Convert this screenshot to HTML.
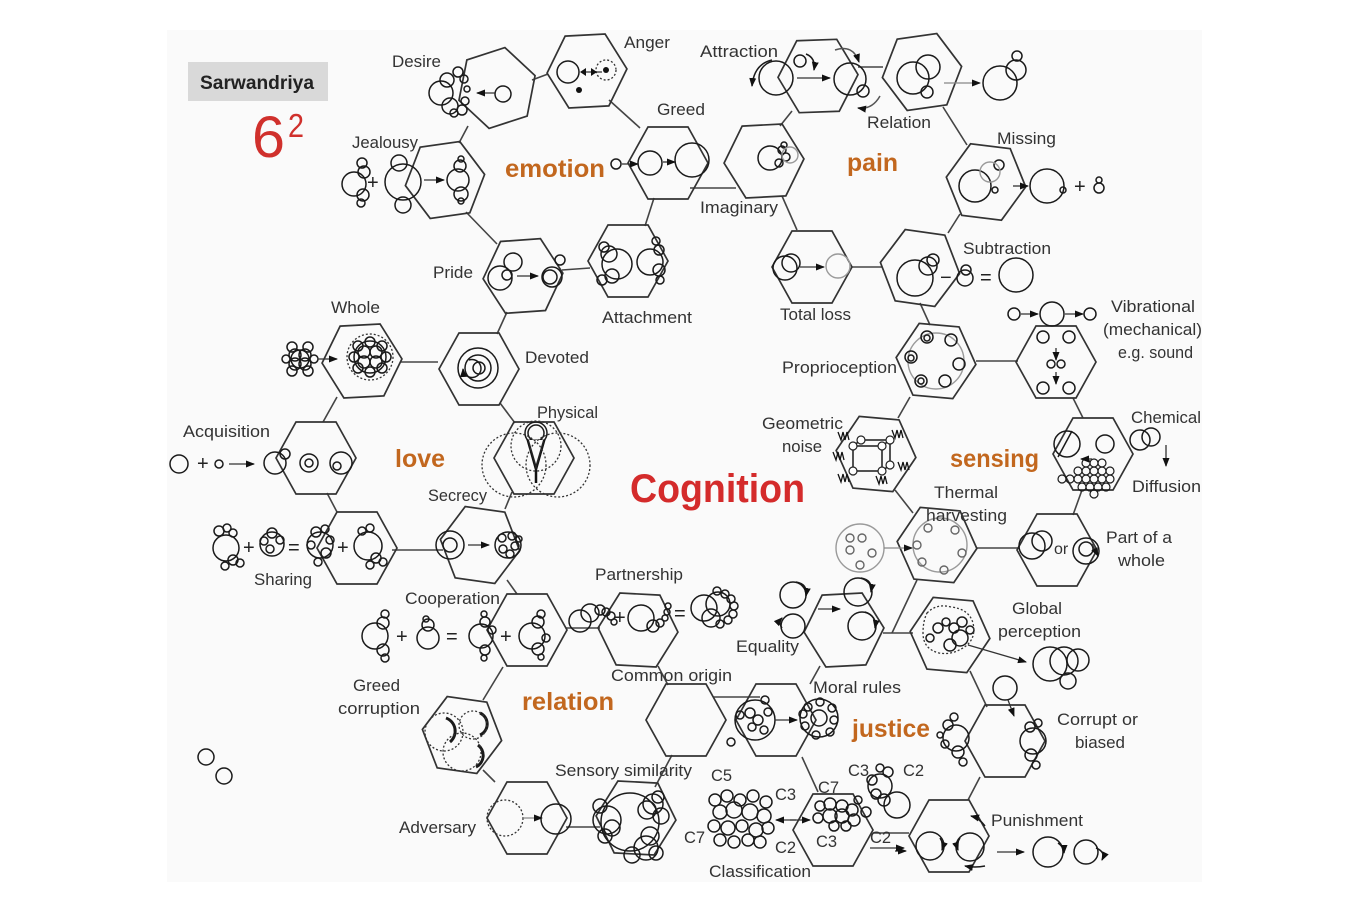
<!DOCTYPE html>
<html><head><meta charset="utf-8"><style>
html,body{margin:0;padding:0;background:#fff;}
svg{display:block;}
text{font-family:"Liberation Sans",sans-serif;}
.L{font-size:16.5px;fill:#333;}
.C{font-size:25px;font-weight:bold;fill:#c2671e;}
.k{fill:none;stroke:#1a1a1a;stroke-width:1.5;}
.g{fill:none;stroke:#9a9a9a;stroke-width:1.4;}
.d{fill:none;stroke:#333;stroke-width:1.3;stroke-dasharray:2 2;}
.ln{stroke:#444;stroke-width:1.6;fill:none;}
.hx{fill:none;stroke:#333;stroke-width:1.7;}
.ar{stroke:#333;stroke-width:1.3;fill:none;marker-end:url(#a);}
.ag{stroke:#888;stroke-width:1.3;fill:none;marker-end:url(#a);}
.op{font-size:20px;fill:#222;}
</style></head><body>
<svg width="1370" height="898" viewBox="0 0 1370 898" xmlns="http://www.w3.org/2000/svg">
<defs>
<polygon id="h" points="40,0 20,-36 -20,-36 -40,0 -20,36 20,36"/>
<marker id="a" markerWidth="9" markerHeight="9" refX="8" refY="4.5" orient="auto" markerUnits="userSpaceOnUse"><path d="M0,1 L9,4.5 L0,8z" fill="#111"/></marker>
</defs>
<rect x="0" y="0" width="1370" height="898" fill="#fff"/>
<rect x="167" y="30" width="1035" height="852" fill="#fafafa"/>

<!-- header -->
<rect x="188" y="62" width="140" height="39" fill="#d9d9d9"/>
<text x="200" y="89" font-size="19" font-weight="bold" fill="#222" textLength="114" lengthAdjust="spacingAndGlyphs">Sarwandriya</text>
<text x="252" y="157" font-size="58" fill="#d0302c" textLength="33" lengthAdjust="spacingAndGlyphs">6</text>
<text x="288" y="137" font-size="33" fill="#d0302c" textLength="16" lengthAdjust="spacingAndGlyphs">2</text>

<!-- connections -->
<g class="ln">
<line x1="532" y1="80" x2="548" y2="74"/>
<line x1="468" y1="126" x2="459" y2="143"/>
<line x1="466" y1="212" x2="497" y2="244"/>
<line x1="562" y1="270" x2="590" y2="268"/>
<line x1="645" y1="226" x2="654" y2="198"/>
<line x1="609" y1="100" x2="640" y2="128"/>
<line x1="690" y1="188" x2="736" y2="188"/>
<line x1="780" y1="126" x2="792" y2="111"/>
<line x1="858" y1="67" x2="883" y2="67"/>
<line x1="943" y1="107" x2="967" y2="145"/>
<line x1="960" y1="214" x2="948" y2="233"/>
<line x1="852" y1="267" x2="882" y2="267"/>
<line x1="782" y1="196" x2="797" y2="230"/>
<line x1="920" y1="303" x2="930" y2="325"/>
<line x1="507" y1="312" x2="497" y2="334"/>
<line x1="400" y1="362" x2="438" y2="362"/>
<line x1="337" y1="397" x2="323" y2="422"/>
<line x1="500" y1="403" x2="515" y2="423"/>
<line x1="512" y1="492" x2="505" y2="509"/>
<line x1="392" y1="550" x2="443" y2="550"/>
<line x1="327" y1="493" x2="337" y2="512"/>
<line x1="507" y1="580" x2="517" y2="594"/>
<line x1="566" y1="628" x2="600" y2="628"/>
<line x1="658" y1="666" x2="668" y2="685"/>
<line x1="713" y1="697" x2="760" y2="697"/>
<line x1="672" y1="755" x2="655" y2="787"/>
<line x1="566" y1="827" x2="600" y2="827"/>
<line x1="495" y1="782" x2="483" y2="770"/>
<line x1="483" y1="700" x2="503" y2="667"/>
<line x1="976" y1="361" x2="1018" y2="361"/>
<line x1="910" y1="397" x2="898" y2="418"/>
<line x1="1073" y1="398" x2="1083" y2="418"/>
<line x1="1082" y1="490" x2="1073" y2="515"/>
<line x1="977" y1="548" x2="1018" y2="548"/>
<line x1="895" y1="490" x2="913" y2="513"/>
<line x1="917" y1="580" x2="892" y2="633"/>
<line x1="883" y1="633" x2="913" y2="633"/>
<line x1="820" y1="666" x2="810" y2="684"/>
<line x1="970" y1="671" x2="987" y2="707"/>
<line x1="980" y1="777" x2="968" y2="800"/>
<line x1="873" y1="833" x2="909" y2="833"/>
<line x1="802" y1="757" x2="818" y2="792"/>
</g>

<!-- hexagons -->
<g class="hx">
<use href="#h" transform="translate(497,88) rotate(-18)"/>
<use href="#h" transform="translate(587,71) rotate(-3)"/>
<use href="#h" transform="translate(668,163)"/>
<use href="#h" transform="translate(628,261)"/>
<use href="#h" transform="translate(523,276) rotate(-4)"/>
<use href="#h" transform="translate(445,180) rotate(-8)"/>
<use href="#h" transform="translate(818,76) rotate(-2)"/>
<use href="#h" transform="translate(922,72) rotate(-8)"/>
<use href="#h" transform="translate(764,161) rotate(-3)"/>
<use href="#h" transform="translate(986,182) rotate(7)"/>
<use href="#h" transform="translate(920,268) rotate(8)"/>
<use href="#h" transform="translate(812,267)"/>
<use href="#h" transform="translate(362,361) rotate(-3)"/>
<use href="#h" transform="translate(479,369)"/>
<use href="#h" transform="translate(534,458)"/>
<use href="#h" transform="translate(316,458)"/>
<use href="#h" transform="translate(357,548)"/>
<use href="#h" transform="translate(480,545) rotate(8)"/>
<use href="#h" transform="translate(936,361) rotate(5)"/>
<use href="#h" transform="translate(1056,362)"/>
<use href="#h" transform="translate(876,454) rotate(5)"/>
<use href="#h" transform="translate(1093,454)"/>
<use href="#h" transform="translate(937,545) rotate(5)"/>
<use href="#h" transform="translate(1057,550)"/>
<use href="#h" transform="translate(527,630)"/>
<use href="#h" transform="translate(638,630) rotate(3)"/>
<use href="#h" transform="translate(686,720)"/>
<use href="#h" transform="translate(462,735) rotate(8)"/>
<use href="#h" transform="translate(527,818)"/>
<use href="#h" transform="translate(636,818) rotate(3)"/>
<use href="#h" transform="translate(844,630) rotate(-3)"/>
<use href="#h" transform="translate(950,635) rotate(5)"/>
<use href="#h" transform="translate(776,720)"/>
<use href="#h" transform="translate(1005,741)"/>
<use href="#h" transform="translate(833,830)"/>
<use href="#h" transform="translate(949,836)"/>
</g>

<!-- ===== emotion icons ===== -->
<g class="k">
<circle cx="441" cy="93" r="12"/><circle cx="447" cy="80" r="7"/><circle cx="450" cy="106" r="8"/>
<circle cx="458" cy="72" r="5"/><circle cx="464" cy="79" r="4"/><circle cx="465" cy="101" r="4"/>
<circle cx="462" cy="110" r="5"/><circle cx="454" cy="113" r="4"/><circle cx="467" cy="89" r="3"/>
<circle cx="503" cy="94" r="8"/>
<circle cx="568" cy="72" r="11"/>
<circle cx="616" cy="164" r="5"/><circle cx="650" cy="163" r="12"/><circle cx="692" cy="160" r="17"/>
<circle cx="770" cy="158" r="12"/><circle cx="782" cy="150" r="4"/><circle cx="786" cy="157" r="4"/><circle cx="779" cy="163" r="4"/><circle cx="784" cy="145" r="3"/>
<circle cx="776" cy="78" r="17"/><circle cx="850" cy="79" r="16"/><circle cx="800" cy="61" r="6"/><circle cx="863" cy="91" r="6"/>
<circle cx="913" cy="78" r="16"/><circle cx="928" cy="67" r="12"/><circle cx="927" cy="92" r="6"/>
<circle cx="1000" cy="83" r="17"/><circle cx="1016" cy="70" r="10"/><circle cx="1017" cy="56" r="5"/>
<circle cx="975" cy="186" r="16"/><circle cx="999" cy="165" r="5"/><circle cx="995" cy="190" r="3"/>
<circle cx="1047" cy="186" r="17"/><circle cx="1063" cy="190" r="3"/><circle cx="1099" cy="188" r="5"/><circle cx="1099" cy="180" r="3"/>
<circle cx="915" cy="278" r="18"/><circle cx="928" cy="266" r="9"/><circle cx="933" cy="260" r="6"/>
<circle cx="965" cy="278" r="8"/><circle cx="966" cy="270" r="5"/><circle cx="1016" cy="275" r="17"/>
<circle cx="785" cy="268" r="12"/><circle cx="791" cy="263" r="9"/>
<circle cx="617" cy="264" r="15"/><circle cx="609" cy="254" r="8"/><circle cx="604" cy="247" r="5"/><circle cx="612" cy="276" r="7"/><circle cx="602" cy="280" r="5"/>
<circle cx="650" cy="262" r="13"/><circle cx="659" cy="250" r="5"/><circle cx="659" cy="270" r="6"/><circle cx="660" cy="280" r="4"/><circle cx="656" cy="241" r="4"/>
<circle cx="500" cy="278" r="12"/><circle cx="513" cy="262" r="9"/><circle cx="507" cy="275" r="5"/>
<circle cx="552" cy="277" r="10"/><circle cx="550" cy="277" r="7"/><circle cx="560" cy="260" r="5"/>
<circle cx="354" cy="184" r="12"/><circle cx="364" cy="172" r="6"/><circle cx="362" cy="163" r="5"/><circle cx="363" cy="195" r="6"/><circle cx="361" cy="203" r="4"/>
<circle cx="403" cy="182" r="18"/><circle cx="399" cy="163" r="8"/><circle cx="403" cy="205" r="8"/>
<circle cx="458" cy="180" r="11"/><circle cx="460" cy="166" r="6"/><circle cx="461" cy="194" r="7"/><circle cx="461" cy="159" r="3"/><circle cx="461" cy="201" r="3"/>
</g>
<g class="g"><circle cx="790" cy="155" r="8"/><circle cx="838" cy="266" r="12"/><circle cx="990" cy="172" r="10"/></g>
<circle cx="606" cy="70" r="10" class="d"/><circle cx="606" cy="70" r="3" fill="#111"/><circle cx="579" cy="90" r="3" fill="#111"/>
<line x1="584" y1="72" x2="602" y2="72" stroke="#333" stroke-width="1.3"/>
<path d="M586,68 L580,72 L586,76z M591,68 L597,72 L591,76z" fill="#111"/>
<g class="ar">
<line x1="495" y1="93" x2="477" y2="93"/>
<line x1="622" y1="164" x2="638" y2="164"/>
<line x1="663" y1="162" x2="675" y2="162"/>
<line x1="797" y1="78" x2="830" y2="78"/>
<line x1="1013" y1="186" x2="1028" y2="186"/>
<line x1="800" y1="267" x2="824" y2="267"/>
<line x1="517" y1="276" x2="538" y2="276"/>
<line x1="424" y1="180" x2="444" y2="180"/>
</g>
<line x1="944" y1="83" x2="980" y2="83" class="ag"/>
<path d="M806,54 q10,4 8,16" class="k" marker-end="url(#a)"/>
<path d="M772,60 q-18,4 -20,26" class="k" marker-end="url(#a)"/>
<path d="M835,50 q18,-6 24,12" class="k" style="stroke:#555" marker-end="url(#a)"/>
<path d="M880,96 q-8,14 -22,12" class="k" style="stroke:#555" marker-end="url(#a)"/>
<text x="1074" y="193" class="op">+</text>
<text x="940" y="284" class="op">−</text>
<text x="980" y="284" class="op">=</text>
<text x="367" y="189" class="op">+</text>

<!-- ===== love icons ===== -->
<g class="k">
<circle cx="292" cy="347" r="5"/><circle cx="308" cy="347" r="5"/><circle cx="292" cy="371" r="5"/><circle cx="308" cy="371" r="5"/>
<circle cx="300" cy="359" r="9"/><circle cx="295" cy="355" r="6"/><circle cx="305" cy="355" r="6"/><circle cx="295" cy="364" r="6"/><circle cx="305" cy="364" r="6"/>
<circle cx="286" cy="359" r="4"/><circle cx="314" cy="359" r="4"/>
<circle cx="370" cy="357" r="16"/><circle cx="358" cy="346" r="5"/><circle cx="370" cy="342" r="5"/><circle cx="382" cy="346" r="5"/><circle cx="386" cy="357" r="5"/>
<circle cx="382" cy="368" r="5"/><circle cx="370" cy="372" r="5"/><circle cx="358" cy="368" r="5"/><circle cx="354" cy="357" r="5"/>
<circle cx="364" cy="352" r="6"/><circle cx="376" cy="352" r="6"/><circle cx="364" cy="362" r="6"/><circle cx="376" cy="362" r="6"/>
<circle cx="478" cy="368" r="20"/><circle cx="478" cy="368" r="13"/><circle cx="479" cy="368" r="6"/>
<circle cx="536" cy="433" r="11"/><circle cx="536" cy="433" r="8"/>
<circle cx="179" cy="464" r="9"/><circle cx="219" cy="464" r="4"/>
<circle cx="275" cy="463" r="11"/><circle cx="285" cy="454" r="5"/>
<circle cx="309" cy="463" r="9"/><circle cx="309" cy="463" r="4"/>
<circle cx="341" cy="463" r="11"/><circle cx="337" cy="466" r="4"/>
<circle cx="226" cy="548" r="13"/><circle cx="219" cy="531" r="5"/><circle cx="227" cy="528" r="4"/><circle cx="233" cy="533" r="4"/>
<circle cx="233" cy="560" r="5"/><circle cx="225" cy="566" r="4"/><circle cx="240" cy="563" r="4"/>
<circle cx="272" cy="544" r="12"/><circle cx="272" cy="533" r="5"/><circle cx="264" cy="541" r="4"/><circle cx="280" cy="540" r="4"/><circle cx="270" cy="549" r="4"/>
<circle cx="320" cy="545" r="13"/><circle cx="316" cy="532" r="5"/><circle cx="325" cy="529" r="4"/><circle cx="311" cy="545" r="4"/><circle cx="326" cy="553" r="5"/><circle cx="318" cy="562" r="4"/><circle cx="330" cy="540" r="4"/>
<circle cx="368" cy="546" r="14"/><circle cx="362" cy="531" r="4"/><circle cx="370" cy="528" r="4"/><circle cx="376" cy="558" r="5"/><circle cx="370" cy="565" r="4"/><circle cx="383" cy="562" r="4"/>
<circle cx="450" cy="545" r="14"/><circle cx="450" cy="545" r="7"/>
<circle cx="508" cy="545" r="13"/><circle cx="502" cy="538" r="4"/><circle cx="512" cy="536" r="4"/><circle cx="515" cy="546" r="4"/><circle cx="503" cy="549" r="4"/><circle cx="510" cy="554" r="4"/><circle cx="519" cy="539" r="3"/>
<circle cx="206" cy="757" r="8"/><circle cx="224" cy="776" r="8"/>
</g>
<path d="M527,440 L536,472 L545,440 Z" fill="#222" stroke="#111" stroke-width="1"/>
<path d="M529,440 L536,464 L543,440 Z" fill="#fafafa"/>
<line x1="536" y1="470" x2="536" y2="483" stroke="#111" stroke-width="2.5"/>
<g class="d">
<circle cx="370" cy="357" r="23"/>
<circle cx="514" cy="465" r="32"/><circle cx="558" cy="465" r="32"/><circle cx="536" cy="446" r="25"/>
</g>
<path d="M469,360 a9,9 0 1 1 -6,9" class="k" marker-end="url(#a)"/>
<g class="ar">
<line x1="318" y1="359" x2="337" y2="359"/>
<line x1="229" y1="464" x2="254" y2="464"/>
<line x1="468" y1="545" x2="489" y2="545"/>
</g>
<text x="197" y="470" class="op">+</text>
<text x="243" y="554" class="op">+</text>
<text x="288" y="554" class="op">=</text>
<text x="337" y="554" class="op">+</text>

<!-- ===== sensing icons ===== -->
<circle cx="936" cy="361" r="28" class="g"/>
<g class="k">
<circle cx="927" cy="337" r="6"/><circle cx="951" cy="340" r="6"/><circle cx="959" cy="364" r="6"/><circle cx="945" cy="381" r="6"/><circle cx="921" cy="381" r="6"/><circle cx="911" cy="357" r="6"/>
<circle cx="927" cy="338" r="3"/><circle cx="911" cy="358" r="3"/><circle cx="921" cy="381" r="3"/>
<circle cx="1043" cy="337" r="6"/><circle cx="1069" cy="337" r="6"/><circle cx="1051" cy="364" r="4"/><circle cx="1061" cy="364" r="4"/><circle cx="1043" cy="388" r="6"/><circle cx="1069" cy="388" r="6"/>
<circle cx="1014" cy="314" r="6"/><circle cx="1052" cy="314" r="12"/><circle cx="1090" cy="314" r="6"/>
<rect x="853" y="446" width="29" height="25"/><path d="M853,446 L861,440 L890,440 L890,465 L882,471 M882,446 L890,440"/>
<circle cx="1067" cy="444" r="13"/><line x1="1058" y1="457" x2="1072" y2="431"/><circle cx="1105" cy="444" r="9"/>
<circle cx="1140" cy="440" r="10"/><circle cx="1151" cy="437" r="9"/>
<circle cx="1032" cy="546" r="13"/><circle cx="1042" cy="541" r="10"/>
<circle cx="1086" cy="551" r="13"/><circle cx="1086" cy="549" r="7"/>
</g>
<g fill="#fff" stroke="#222" stroke-width="1.2">
<circle cx="853" cy="446" r="4"/><circle cx="882" cy="446" r="4"/><circle cx="853" cy="471" r="4"/><circle cx="882" cy="471" r="4"/><circle cx="861" cy="440" r="4"/><circle cx="890" cy="440" r="4"/><circle cx="890" cy="465" r="4"/>
</g>
<g fill="none" stroke="#111" stroke-width="1.3">
<path d="M838,432 l3,8 l2,-8 l2,8 l2,-8 l2,8"/>
<path d="M892,430 l3,8 l2,-8 l2,8 l2,-8 l2,8"/>
<path d="M833,452 l3,8 l2,-8 l2,8 l2,-8 l2,8"/>
<path d="M898,462 l3,8 l2,-8 l2,8 l2,-8 l2,8"/>
<path d="M838,474 l3,8 l2,-8 l2,8 l2,-8 l2,8"/>
<path d="M876,476 l3,8 l2,-8 l2,8 l2,-8 l2,8"/>
</g>
<g class="k" style="stroke-width:1.2">
<circle cx="1062" cy="479" r="4"/><circle cx="1070" cy="479" r="4"/><circle cx="1078" cy="479" r="4"/><circle cx="1086" cy="479" r="4"/><circle cx="1094" cy="479" r="4"/><circle cx="1102" cy="479" r="4"/><circle cx="1110" cy="479" r="4"/>
<circle cx="1078" cy="471" r="4"/><circle cx="1086" cy="471" r="4"/><circle cx="1094" cy="471" r="4"/><circle cx="1102" cy="471" r="4"/><circle cx="1110" cy="471" r="4"/>
<circle cx="1086" cy="463" r="4"/><circle cx="1094" cy="463" r="4"/><circle cx="1102" cy="463" r="4"/>
<circle cx="1082" cy="487" r="4"/><circle cx="1090" cy="487" r="4"/><circle cx="1098" cy="487" r="4"/><circle cx="1106" cy="487" r="4"/><circle cx="1094" cy="494" r="4"/>
</g>
<g class="ar">
<line x1="1056" y1="348" x2="1056" y2="360"/><line x1="1056" y1="372" x2="1056" y2="384"/>
<line x1="1021" y1="314" x2="1038" y2="314"/><line x1="1065" y1="314" x2="1083" y2="314"/>
<line x1="1092" y1="459" x2="1081" y2="459"/>
<line x1="1166" y1="445" x2="1166" y2="466"/>
<line x1="1092" y1="544" x2="1098" y2="556"/>
</g>
<circle cx="940" cy="545" r="27" class="g"/><circle cx="860" cy="548" r="24" class="g"/>
<g class="g" style="stroke:#666">
<circle cx="928" cy="528" r="4"/><circle cx="955" cy="530" r="4"/><circle cx="962" cy="553" r="4"/><circle cx="944" cy="570" r="4"/><circle cx="922" cy="562" r="4"/><circle cx="917" cy="545" r="4"/>
<circle cx="850" cy="538" r="4"/><circle cx="862" cy="538" r="4"/><circle cx="850" cy="550" r="4"/><circle cx="872" cy="553" r="4"/><circle cx="860" cy="565" r="4"/>
</g>
<line x1="884" y1="548" x2="912" y2="548" class="ag"/>
<text x="1054" y="554" font-size="16" fill="#333">or</text>

<!-- ===== relation icons ===== -->
<g class="k">
<circle cx="375" cy="636" r="13"/><circle cx="383" cy="623" r="6"/><circle cx="385" cy="614" r="4"/><circle cx="383" cy="650" r="6"/><circle cx="385" cy="658" r="4"/>
<circle cx="428" cy="638" r="11"/><circle cx="428" cy="625" r="6"/><circle cx="426" cy="619" r="3"/>
<circle cx="481" cy="636" r="12"/><circle cx="485" cy="622" r="5"/><circle cx="484" cy="614" r="3"/><circle cx="485" cy="650" r="5"/><circle cx="484" cy="658" r="3"/><circle cx="492" cy="630" r="4"/>
<circle cx="532" cy="636" r="13"/><circle cx="538" cy="622" r="6"/><circle cx="541" cy="614" r="4"/><circle cx="538" cy="649" r="6"/><circle cx="541" cy="657" r="3"/><circle cx="546" cy="638" r="4"/>
<circle cx="580" cy="621" r="11"/><circle cx="590" cy="613" r="9"/><circle cx="600" cy="610" r="5"/><circle cx="606" cy="612" r="4"/><circle cx="611" cy="616" r="4"/><circle cx="614" cy="622" r="3"/>
<circle cx="641" cy="618" r="13"/><circle cx="653" cy="626" r="6"/><circle cx="660" cy="623" r="4"/><circle cx="665" cy="618" r="3"/><circle cx="667" cy="612" r="3"/><circle cx="668" cy="606" r="3"/>
<circle cx="704" cy="608" r="13"/><circle cx="718" cy="604" r="12"/><circle cx="711" cy="618" r="9"/><circle cx="725" cy="594" r="4"/><circle cx="731" cy="599" r="4"/><circle cx="734" cy="606" r="4"/><circle cx="733" cy="614" r="4"/><circle cx="728" cy="620" r="4"/><circle cx="720" cy="624" r="4"/><circle cx="717" cy="591" r="4"/>
<circle cx="556" cy="819" r="15"/>
<circle cx="630" cy="822" r="29"/><circle cx="607" cy="820" r="14"/><circle cx="600" cy="806" r="7"/><circle cx="605" cy="836" r="7"/><circle cx="612" cy="828" r="8"/>
<circle cx="653" cy="804" r="10"/><circle cx="661" cy="816" r="8"/><circle cx="647" cy="810" r="9"/><circle cx="646" cy="848" r="12"/><circle cx="632" cy="855" r="8"/><circle cx="656" cy="853" r="7"/><circle cx="650" cy="836" r="9"/><circle cx="658" cy="797" r="6"/>
<path d="M446,718 a14,14 0 0 1 4,24" style="stroke-width:3"/>
<path d="M480,713 a12,12 0 0 1 0,22" style="stroke-width:3"/>
<path d="M478,745 a13,13 0 0 1 -2,22" style="stroke-width:3"/>
</g>
<g class="d">
<circle cx="444" cy="732" r="19"/><circle cx="473" cy="725" r="14"/><circle cx="462" cy="752" r="19"/>
<circle cx="505" cy="818" r="18"/>
</g>
<line x1="524" y1="818" x2="542" y2="818" class="ag"/>
<text x="396" y="643" class="op">+</text>
<text x="446" y="643" class="op">=</text>
<text x="500" y="643" class="op">+</text>
<text x="614" y="624" class="op">+</text>
<text x="674" y="620" class="op">=</text>

<!-- ===== justice icons ===== -->
<g class="k">
<circle cx="793" cy="595" r="13"/><circle cx="793" cy="626" r="12"/><circle cx="858" cy="592" r="14"/><circle cx="862" cy="626" r="14"/>
<circle cx="1050" cy="664" r="17"/><circle cx="1064" cy="661" r="14"/><circle cx="1078" cy="660" r="11"/><circle cx="1068" cy="681" r="8"/>
<circle cx="938" cy="628" r="5"/><circle cx="946" cy="622" r="4"/><circle cx="954" cy="628" r="5"/><circle cx="962" cy="622" r="5"/><circle cx="970" cy="630" r="4"/><circle cx="950" cy="645" r="6"/><circle cx="930" cy="638" r="4"/><circle cx="960" cy="638" r="8"/>
<circle cx="755" cy="720" r="20"/><circle cx="750" cy="713" r="5"/><circle cx="758" cy="720" r="5"/><circle cx="752" cy="727" r="4"/><circle cx="764" cy="730" r="4"/><circle cx="768" cy="712" r="4"/><circle cx="765" cy="700" r="4"/>
<circle cx="740" cy="715" r="4"/><circle cx="731" cy="742" r="4"/>
<circle cx="819" cy="718" r="19"/><circle cx="819" cy="718" r="8"/><circle cx="808" cy="707" r="4"/><circle cx="820" cy="702" r="4"/><circle cx="832" cy="708" r="4"/><circle cx="834" cy="720" r="4"/><circle cx="830" cy="732" r="4"/><circle cx="816" cy="735" r="4"/><circle cx="805" cy="726" r="4"/><circle cx="803" cy="714" r="4"/>
<circle cx="1005" cy="688" r="12"/>
<circle cx="956" cy="738" r="13"/><circle cx="948" cy="725" r="5"/><circle cx="954" cy="717" r="4"/><circle cx="958" cy="752" r="6"/><circle cx="963" cy="762" r="4"/><circle cx="945" cy="744" r="4"/><circle cx="940" cy="735" r="3"/>
<circle cx="1033" cy="741" r="13"/><circle cx="1030" cy="727" r="5"/><circle cx="1038" cy="723" r="4"/><circle cx="1031" cy="755" r="6"/><circle cx="1036" cy="765" r="4"/>
<circle cx="930" cy="846" r="14"/><circle cx="970" cy="847" r="14"/><circle cx="1048" cy="852" r="15"/><circle cx="1086" cy="852" r="12"/>
<circle cx="715" cy="800" r="6"/><circle cx="727" cy="796" r="6"/><circle cx="740" cy="800" r="6"/><circle cx="753" cy="796" r="6"/><circle cx="766" cy="802" r="6"/>
<circle cx="720" cy="812" r="7"/><circle cx="734" cy="810" r="8"/><circle cx="750" cy="812" r="8"/><circle cx="764" cy="816" r="7"/>
<circle cx="714" cy="826" r="6"/><circle cx="728" cy="828" r="7"/><circle cx="742" cy="826" r="6"/><circle cx="756" cy="830" r="7"/><circle cx="768" cy="828" r="6"/>
<circle cx="720" cy="840" r="6"/><circle cx="734" cy="842" r="6"/><circle cx="748" cy="840" r="6"/><circle cx="760" cy="842" r="6"/>
<circle cx="820" cy="806" r="5"/><circle cx="830" cy="804" r="6"/><circle cx="842" cy="806" r="6"/><circle cx="852" cy="810" r="6"/>
<circle cx="818" cy="818" r="5"/><circle cx="830" cy="816" r="7"/><circle cx="842" cy="816" r="7"/><circle cx="854" cy="820" r="6"/><circle cx="846" cy="826" r="5"/><circle cx="834" cy="826" r="5"/>
<circle cx="866" cy="812" r="5"/><circle cx="858" cy="800" r="4"/>
<circle cx="880" cy="786" r="12"/><circle cx="888" cy="772" r="5"/><circle cx="880" cy="768" r="4"/><circle cx="872" cy="780" r="5"/><circle cx="884" cy="800" r="6"/><circle cx="876" cy="794" r="5"/><circle cx="897" cy="805" r="13"/>
</g>
<path d="M927,613 q10,-10 24,-6 q18,2 22,16 q4,18 -12,26 q-10,6 -22,4 q-16,-4 -16,-20 q0,-12 4,-20z" class="d"/>
<g class="ar">
<line x1="818" y1="609" x2="840" y2="609"/>
<line x1="968" y1="645" x2="1026" y2="662"/>
<line x1="1008" y1="700" x2="1014" y2="716"/>
<line x1="895" y1="851" x2="906" y2="851"/>
<line x1="997" y1="852" x2="1024" y2="852"/>
<line x1="775" y1="720" x2="797" y2="720"/>
<line x1="790" y1="820" x2="810" y2="820"/>
<line x1="796" y1="820" x2="776" y2="820"/>
<line x1="870" y1="848" x2="904" y2="848"/>
</g>
<g class="k">
<path d="M796,582 q12,2 10,14" marker-end="url(#a)"/>
<path d="M861,578 q12,2 10,14" marker-end="url(#a)"/>
<path d="M865,612 q12,4 10,16" marker-end="url(#a)"/>
<path d="M782,628 q-4,-6 0,-10" marker-end="url(#a)"/>
<path d="M940,838 q4,6 2,12" marker-end="url(#a)"/>
<path d="M960,838 q-4,6 -2,12" marker-end="url(#a)"/>
<path d="M1096,848 q10,4 6,12" marker-end="url(#a)"/>
<path d="M1058,843 q6,4 6,10" marker-end="url(#a)"/>
<path d="M985,826 q-6,-8 -14,-10" marker-end="url(#a)"/>
<path d="M985,866 q-10,2 -20,0" marker-end="url(#a)"/>
</g>

<!-- ===== category labels ===== -->
<text x="505" y="177" class="C" textLength="100" lengthAdjust="spacingAndGlyphs">emotion</text>
<text x="847" y="171" class="C" textLength="51" lengthAdjust="spacingAndGlyphs">pain</text>
<text x="395" y="467" class="C" textLength="50" lengthAdjust="spacingAndGlyphs">love</text>
<text x="950" y="467" class="C" textLength="89" lengthAdjust="spacingAndGlyphs">sensing</text>
<text x="522" y="710" class="C" textLength="92" lengthAdjust="spacingAndGlyphs">relation</text>
<text x="852" y="737" class="C" textLength="78" lengthAdjust="spacingAndGlyphs">justice</text>
<text x="630" y="502" font-size="40" font-weight="bold" fill="#d42b2b" textLength="175" lengthAdjust="spacingAndGlyphs">Cognition</text>

<!-- ===== node labels ===== -->
<g class="L">
<text x="392" y="67" textLength="49" lengthAdjust="spacingAndGlyphs">Desire</text>
<text x="624" y="48" textLength="46" lengthAdjust="spacingAndGlyphs">Anger</text>
<text x="700" y="57" textLength="78" lengthAdjust="spacingAndGlyphs">Attraction</text>
<text x="657" y="115" textLength="48" lengthAdjust="spacingAndGlyphs">Greed</text>
<text x="867" y="128" textLength="64" lengthAdjust="spacingAndGlyphs">Relation</text>
<text x="997" y="144" textLength="59" lengthAdjust="spacingAndGlyphs">Missing</text>
<text x="352" y="148" textLength="66" lengthAdjust="spacingAndGlyphs">Jealousy</text>
<text x="700" y="213" textLength="78" lengthAdjust="spacingAndGlyphs">Imaginary</text>
<text x="963" y="254" textLength="88" lengthAdjust="spacingAndGlyphs">Subtraction</text>
<text x="433" y="278" textLength="40" lengthAdjust="spacingAndGlyphs">Pride</text>
<text x="602" y="323" textLength="90" lengthAdjust="spacingAndGlyphs">Attachment</text>
<text x="780" y="320" textLength="71" lengthAdjust="spacingAndGlyphs">Total loss</text>
<text x="331" y="313" textLength="49" lengthAdjust="spacingAndGlyphs">Whole</text>
<text x="525" y="363" textLength="64" lengthAdjust="spacingAndGlyphs">Devoted</text>
<text x="1111" y="312" textLength="84" lengthAdjust="spacingAndGlyphs">Vibrational</text>
<text x="1103" y="335" textLength="99" lengthAdjust="spacingAndGlyphs">(mechanical)</text>
<text x="1118" y="358" textLength="75" lengthAdjust="spacingAndGlyphs">e.g. sound</text>
<text x="782" y="373" textLength="115" lengthAdjust="spacingAndGlyphs">Proprioception</text>
<text x="537" y="418" textLength="61" lengthAdjust="spacingAndGlyphs">Physical</text>
<text x="762" y="429" textLength="81" lengthAdjust="spacingAndGlyphs">Geometric</text>
<text x="782" y="452" textLength="40" lengthAdjust="spacingAndGlyphs">noise</text>
<text x="1131" y="423" textLength="70" lengthAdjust="spacingAndGlyphs">Chemical</text>
<text x="183" y="437" textLength="87" lengthAdjust="spacingAndGlyphs">Acquisition</text>
<text x="1132" y="492" textLength="69" lengthAdjust="spacingAndGlyphs">Diffusion</text>
<text x="934" y="498" textLength="64" lengthAdjust="spacingAndGlyphs">Thermal</text>
<text x="926" y="521" textLength="81" lengthAdjust="spacingAndGlyphs">harvesting</text>
<text x="428" y="501" textLength="59" lengthAdjust="spacingAndGlyphs">Secrecy</text>
<text x="1106" y="543" textLength="66" lengthAdjust="spacingAndGlyphs">Part of a</text>
<text x="1118" y="566" textLength="47" lengthAdjust="spacingAndGlyphs">whole</text>
<text x="254" y="585" textLength="58" lengthAdjust="spacingAndGlyphs">Sharing</text>
<text x="595" y="580" textLength="88" lengthAdjust="spacingAndGlyphs">Partnership</text>
<text x="405" y="604" textLength="95" lengthAdjust="spacingAndGlyphs">Cooperation</text>
<text x="1012" y="614" textLength="50" lengthAdjust="spacingAndGlyphs">Global</text>
<text x="998" y="637" textLength="83" lengthAdjust="spacingAndGlyphs">perception</text>
<text x="736" y="652" textLength="63" lengthAdjust="spacingAndGlyphs">Equality</text>
<text x="611" y="681" textLength="121" lengthAdjust="spacingAndGlyphs">Common origin</text>
<text x="353" y="691" textLength="47" lengthAdjust="spacingAndGlyphs">Greed</text>
<text x="338" y="714" textLength="82" lengthAdjust="spacingAndGlyphs">corruption</text>
<text x="813" y="693" textLength="88" lengthAdjust="spacingAndGlyphs">Moral rules</text>
<text x="1057" y="725" textLength="81" lengthAdjust="spacingAndGlyphs">Corrupt or</text>
<text x="1075" y="748" textLength="50" lengthAdjust="spacingAndGlyphs">biased</text>
<text x="555" y="776" textLength="137" lengthAdjust="spacingAndGlyphs">Sensory similarity</text>
<text x="399" y="833" textLength="77" lengthAdjust="spacingAndGlyphs">Adversary</text>
<text x="991" y="826" textLength="92" lengthAdjust="spacingAndGlyphs">Punishment</text>
<text x="709" y="877" textLength="102" lengthAdjust="spacingAndGlyphs">Classification</text>
<text x="711" y="781">C5</text>
<text x="775" y="800">C3</text>
<text x="848" y="776">C3</text>
<text x="903" y="776">C2</text>
<text x="818" y="793">C7</text>
<text x="684" y="843">C7</text>
<text x="775" y="853">C2</text>
<text x="816" y="847">C3</text>
<text x="870" y="843">C2</text>
</g>
</svg>
</body></html>
